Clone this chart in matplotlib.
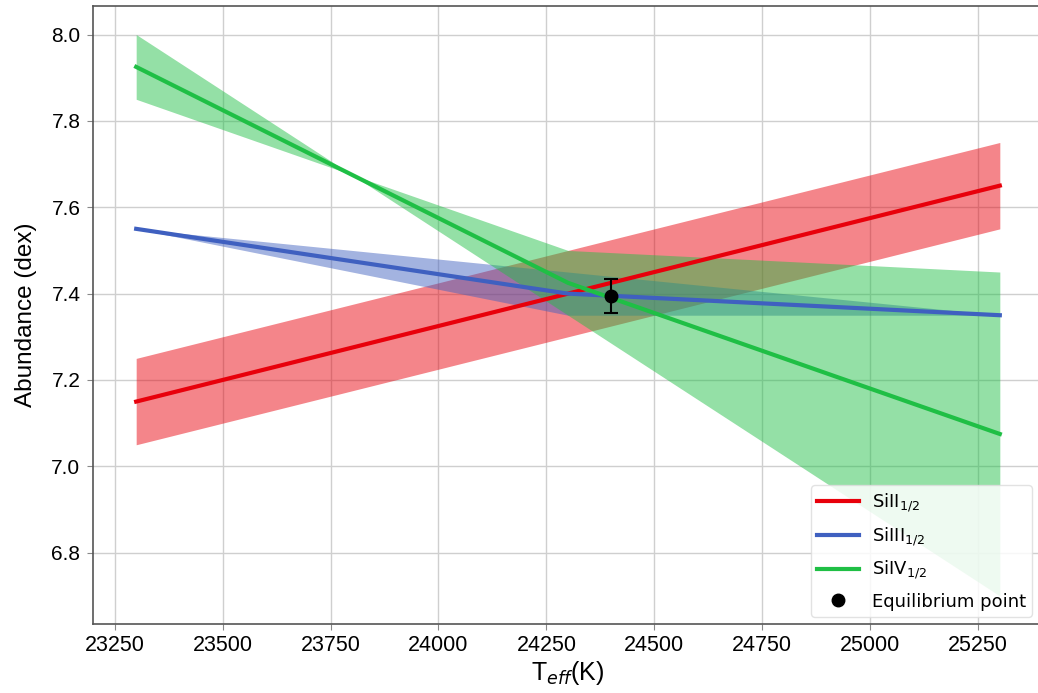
import numpy as np
import matplotlib
matplotlib.use("Agg")
import matplotlib.pyplot as plt

# Teff grid and abundances for the three silicon ionisation stages
teff = [23300, 24300, 25300]

si2_abund = [7.15, 7.40, 7.65]
si2_err = [0.10, 0.10, 0.10]

si3_abund = [7.55, 7.40, 7.35]
si3_err = [0.00, 0.05, 0.00]

si4_abund = [7.925, 7.425, 7.075]
si4_err = [0.075, -0.075, -0.375]

eq_teff = 24400
eq_abund = 7.395
eq_err = 0.04

xticks = [23250, 23500, 23750, 24000, 24250, 24500, 24750, 25000, 25250]
yticks = [6.8, 7.0, 7.2, 7.4, 7.6, 7.8, 8.0]

series = [
    ("SiII$_{1/2}$", si2_abund, si2_err, "#e8000b"),
    ("SiIII$_{1/2}$", si3_abund, si3_err, "#3f60c0"),
    ("SiIV$_{1/2}$", si4_abund, si4_err, "#1fbf45"),
]

fig = plt.figure(figsize=(10.38, 6.93), dpi=100)
ax = fig.add_axes([93 / 1038, 69 / 693, 950 / 1038, 618 / 693])

x = np.array(teff)
for label, abund, err, color in series:
    y = np.array(abund)
    e = np.array(err)
    ax.fill_between(x, y - e, y + e, color=color, alpha=0.48, lw=0)
    ax.plot(x, y, color=color, lw=3, label=label)

ax.errorbar(eq_teff, eq_abund, yerr=eq_err, fmt="none", ecolor="black",
            capsize=5, elinewidth=1.5, capthick=1.5, zorder=5)
ax.plot(eq_teff, eq_abund, "o", color="black", ms=9, label="Equilibrium point",
        zorder=6)

ax.set_xlim(23200, 25400)
ax.set_ylim(6.635, 8.066)
ax.set_xticks(xticks)
ax.set_yticks(yticks)
ax.set_yticklabels([f"{v:.1f}" for v in yticks], family="Liberation Sans",
                   fontsize=15)
ax.set_xticklabels([str(v) for v in xticks], family="Liberation Sans",
                   fontsize=15.5)

ax.grid(True, color="#cfcfcf", lw=1)
ax.set_axisbelow(True)
for side in ["top", "right", "left", "bottom"]:
    ax.spines[side].set_color("#555555")
    ax.spines[side].set_linewidth(1.2)
ax.tick_params(axis="both", length=4, color="#888888")
ax.tick_params(axis="x", pad=4)
ax.tick_params(axis="y", pad=5)

ax.set_ylabel("Abundance (dex)", family="Liberation Sans", fontsize=17.5,
              labelpad=10)
ax.set_xlabel(r"T$_{eff}$(K)", family="Liberation Sans", fontsize=18,
              labelpad=2)

leg = ax.legend(loc="lower right", bbox_to_anchor=(1032 / 1038, 1 - 617 / 693),
                bbox_transform=fig.transFigure, borderaxespad=0,
                fontsize=13, frameon=True, framealpha=0.85, edgecolor="#dddddd",
                handlelength=2.3, handletextpad=0.7, labelspacing=0.62,
                borderpad=0.35, numpoints=1)
leg.get_frame().set_linewidth(1)

fig.savefig("out.png", dpi=100)
